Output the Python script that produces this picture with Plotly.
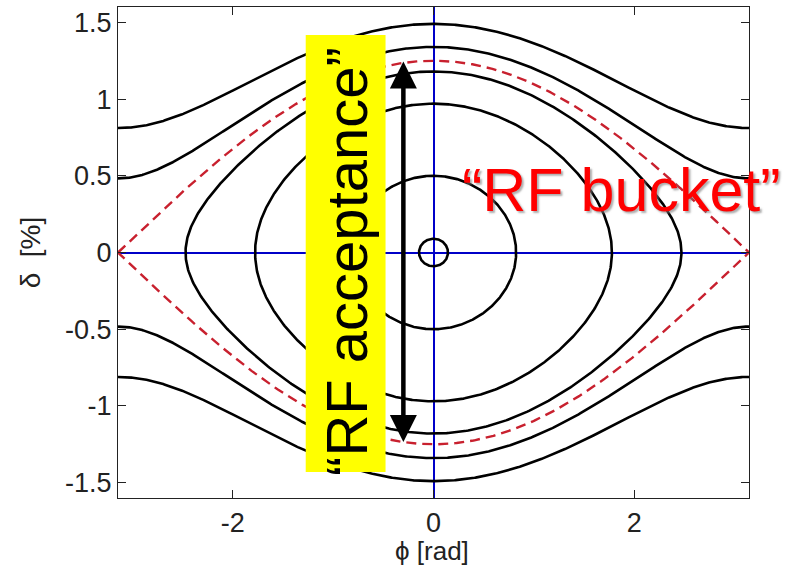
import numpy as np
import plotly.graph_objects as go

# ---- values ----
separatrix_height = 1.25            # delta (%) of the separatrix at phi = 0
inner_orbit_peaks = [0.09, 0.5, 0.97, 1.18]   # delta at phi=0 of closed orbits
outer_orbit_peaks = [1.34, 1.49]              # delta at phi=0 of open (rotating) orbits
x_tick_vals = [-2, 0, 2]
x_tick_text = ["-2", "0", "2"]
y_tick_vals = [-1.5, -1, -0.5, 0, 0.5, 1, 1.5]
y_tick_text = ["-1.5", "-1", "-0.5", "0", "0.5", "1", "1.5"]
acceptance_phi = -0.30             # position of the double arrow

FONT = "Liberation Sans, Arial, sans-serif"
BLACK_W = 2.6

fig = go.Figure()

# closed orbits inside the bucket (pendulum Hamiltonian level sets)
theta = np.linspace(0, 2 * np.pi, 721)
for peak in inner_orbit_peaks:
    k = peak / separatrix_height
    phi = 2 * np.arcsin(k * np.sin(theta))
    delta = peak * np.cos(theta)
    fig.add_trace(go.Scatter(x=phi, y=delta, mode="lines",
                             line=dict(color="black", width=BLACK_W),
                             hoverinfo="skip", showlegend=False))

# open orbits outside the bucket
phi_full = np.linspace(-np.pi, np.pi, 601)
for peak in outer_orbit_peaks:
    d = np.sqrt(peak ** 2 - separatrix_height ** 2 * np.sin(phi_full / 2) ** 2)
    for sgn in (1, -1):
        fig.add_trace(go.Scatter(x=phi_full, y=sgn * d, mode="lines",
                                 line=dict(color="black", width=BLACK_W),
                                 hoverinfo="skip", showlegend=False))

# separatrix (RF bucket)
d_sep = separatrix_height * np.cos(phi_full / 2)
fig.add_trace(go.Scatter(x=np.concatenate([phi_full, phi_full[::-1]]),
                         y=np.concatenate([d_sep, -d_sep[::-1]]),
                         mode="lines",
                         line=dict(color="#c8202e", width=2.4, dash="10px,6px"),
                         hoverinfo="skip", showlegend=False))

# yellow box behind "RF acceptance"
fig.add_shape(type="rect", xref="paper", yref="paper",
              x0=0.2975, x1=0.424, y0=0.053, y1=0.943,
              fillcolor="#ffff00", line=dict(width=0), layer="above")

fig.add_annotation(text="\u201cRF acceptance\u201d", xref="paper", yref="paper",
                   x=0.363, y=0.481, xanchor="center", yanchor="middle",
                   textangle=-90, showarrow=False,
                   font=dict(family=FONT, size=58, color="black"))

# double arrow
fig.add_annotation(x=acceptance_phi, y=1.245, ax=acceptance_phi, ay=-1.245,
                   xref="x", yref="y", axref="x", ayref="y", text="",
                   showarrow=True, arrowhead=2, arrowside="end+start",
                   arrowwidth=4.5, arrowsize=1.2, arrowcolor="black")

fig.add_annotation(text="\u201cRF bucket\u201d", xref="paper", yref="paper",
                   x=0.7975, y=0.627, xanchor="center", yanchor="middle",
                   showarrow=False,
                   font=dict(family=FONT, size=61, color="#ff0000",
                             shadow="2px 2px 2px rgba(120,120,120,0.6)"))

# axis titles
fig.add_annotation(text="\u03d5 [rad]", xref="paper", yref="paper",
                   x=0.497, y=-0.108, xanchor="center", yanchor="middle",
                   showarrow=False, font=dict(family=FONT, size=26, color="#222"))
fig.add_annotation(text="\u03b4  [%]", xref="paper", yref="paper",
                   x=-0.139, y=0.501, xanchor="center", yanchor="middle",
                   textangle=-90, showarrow=False,
                   font=dict(family=FONT, size=28, color="#222"))

axis_common = dict(showgrid=False, zeroline=True, zerolinecolor="#0000c8",
                   zerolinewidth=2, showline=True, linecolor="#222",
                   linewidth=1.2, mirror="ticks", ticks="inside", ticklen=8,
                   tickcolor="#222", automargin=False,
                   tickfont=dict(family=FONT, size=27, color="#222"))

fig.update_xaxes(range=[-np.pi, np.pi], tickvals=x_tick_vals, ticktext=x_tick_text,
                 **axis_common)
fig.update_yaxes(range=[-1.6, 1.6], tickvals=y_tick_vals, ticktext=y_tick_text,
                 **axis_common)

fig.update_layout(width=798, height=573, margin=dict(l=118, r=49, t=7, b=75),
                  paper_bgcolor="white", plot_bgcolor="white", showlegend=False)

fig.write_html("out.html", config={"displayModeBar": False},
               post_script="document.body.style.margin='0';document.body.style.overflow='hidden';")
